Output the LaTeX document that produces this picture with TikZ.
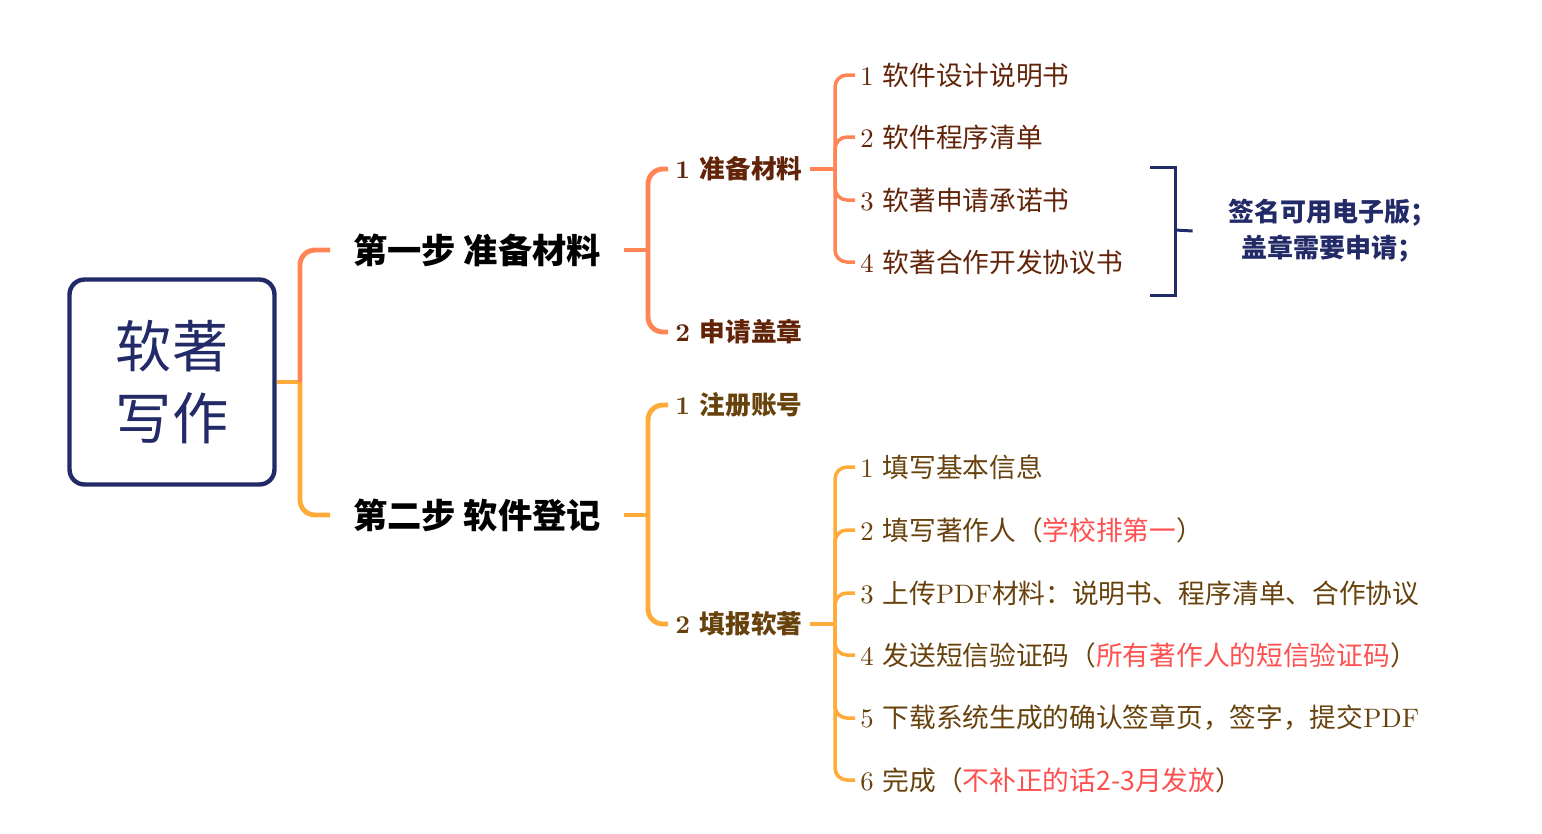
\documentclass[tikz,border=0pt]{standalone}
\usepackage{fontspec}
\setmainfont{lmroman10-regular.otf}[BoldFont=lmroman10-bold.otf]
\newfontfamily\cjk{Noto Sans CJK SC}
\usetikzlibrary{positioning}

\definecolor{navy}{RGB}{35,42,104}
\definecolor{coral}{RGB}{255,133,87}
\definecolor{amber}{RGB}{255,171,58}
\definecolor{rust}{RGB}{98,36,8}
\definecolor{umber}{RGB}{104,66,12}
\definecolor{alert}{RGB}{255,80,80}

\newcommand{\zh}[1]{{\cjk #1}}
\newcommand{\hl}[1]{\textcolor{alert}{\cjk #1}}

\tikzset{
  steptext/.style={anchor=west,inner xsep=0.46cm,font=\bfseries\fontsize{19.5}{22}\selectfont},
  subtext/.style={anchor=west,inner xsep=0.14cm,font=\bfseries\fontsize{14.6}{18}\selectfont},
  itemtext/.style={anchor=west,inner xsep=0.1cm,font=\fontsize{15.2}{18}\selectfont},
  coralline/.style={draw=coral,line width=2.8pt,rounded corners=0.3cm},
  amberline/.style={draw=amber,line width=2.8pt,rounded corners=0.3cm},
  coralthin/.style={draw=coral,line width=2pt,rounded corners=0.24cm},
  amberthin/.style={draw=amber,line width=2pt,rounded corners=0.24cm},
}

\begin{document}
\begin{tikzpicture}[x=0.02cm,y=-0.02cm]
\useasboundingbox (0,0) rectangle (1542,833);

\node[draw=navy,line width=2.5pt,rounded corners=0.3cm,minimum width=4.1cm,minimum height=4.1cm,
  align=center,text=navy,font=\cjk\fontsize{32}{41}\selectfont] (root) at (172,382) {软著\\写作};

\node[steptext] (s1) at (330,250) {\zh{第一步 准备材料}};
\node[steptext] (s2) at (330,515) {\zh{第二步 软件登记}};

\node[subtext,text=rust] (a1) at (668,169) {1 \zh{准备材料}};
\node[subtext,text=rust] (a2) at (668,332) {2 \zh{申请盖章}};
\node[subtext,text=umber] (b1) at (668,405) {1 \zh{注册账号}};
\node[subtext,text=umber] (b2) at (668,624) {2 \zh{填报软著}};

\node[itemtext,text=rust] (m1) at (855,75) {1 \zh{软件设计说明书}};
\node[itemtext,text=rust] (m2) at (855,137) {2 \zh{软件程序清单}};
\node[itemtext,text=rust] (m3) at (855,200) {3 \zh{软著申请承诺书}};
\node[itemtext,text=rust] (m4) at (855,262) {4 \zh{软著合作开发协议书}};

\node[itemtext,text=umber] (f1) at (855,467) {1 \zh{填写基本信息}};
\node[itemtext,text=umber] (f2) at (855,530) {2 \zh{填写著作人（}\hl{学校排第一}\zh{）}};
\node[itemtext,text=umber] (f3) at (855,593) {3 \zh{上传}PDF\zh{材料：说明书、程序清单、合作协议}};
\node[itemtext,text=umber] (f4) at (855,655) {4 \zh{发送短信验证码（}\hl{所有著作人的短信验证码}\zh{）}};
\node[itemtext,text=umber] (f5) at (855,718) {5 \zh{下载系统生成的确认签章页，签字，提交}PDF};
\node[itemtext,text=umber] (f6) at (855,780) {6 \zh{完成（}\hl{不补正的话2-3月发放}\zh{）}};

\node[text=navy,align=center,inner xsep=0.7cm,font=\cjk\bfseries\fontsize{14.8}{20.4}\selectfont]
  (note) at (1332,231) {签名可用电子版；\\盖章需要申请；};

% junctions
\coordinate (j0) at (300,382);
\coordinate (j1) at (648,250);
\coordinate (j2) at (835,169);
\coordinate (j3) at (648,515);
\coordinate (j4) at (835,624);

\draw[amberline] (root.east) -- (j0);
\draw[coralline] (j0) |- (s1.west);
\draw[amberline] (j0) |- (s2.west);

\draw[coralline] (s1.east) -- (j1);
\draw[coralline] (j1) |- (a1.west);
\draw[coralline] (j1) |- (a2.west);
\draw[amberline] (s2.east) -- (j3);
\draw[amberline] (j3) |- (b1.west);
\draw[amberline] (j3) |- (b2.west);

\draw[coralthin] (a1.east) -- (j2);
\foreach \n in {m1,m2,m3,m4}
  \draw[coralthin] (j2) |- (\n.west);
\draw[amberthin] (b2.east) -- (j4);
\foreach \n in {f1,f2,f3,f4,f5,f6}
  \draw[amberthin] (j4) |- (\n.west);

% bracket
\coordinate (t1) at (1150,167);
\coordinate (t2) at (1150,295);
\coordinate (brk) at (1175,230);
\draw[navy,line width=1.7pt] (t1) -| (brk) |- (t2);
\draw[navy,line width=1.7pt] (brk) -- (note.west);
\end{tikzpicture}
\end{document}
